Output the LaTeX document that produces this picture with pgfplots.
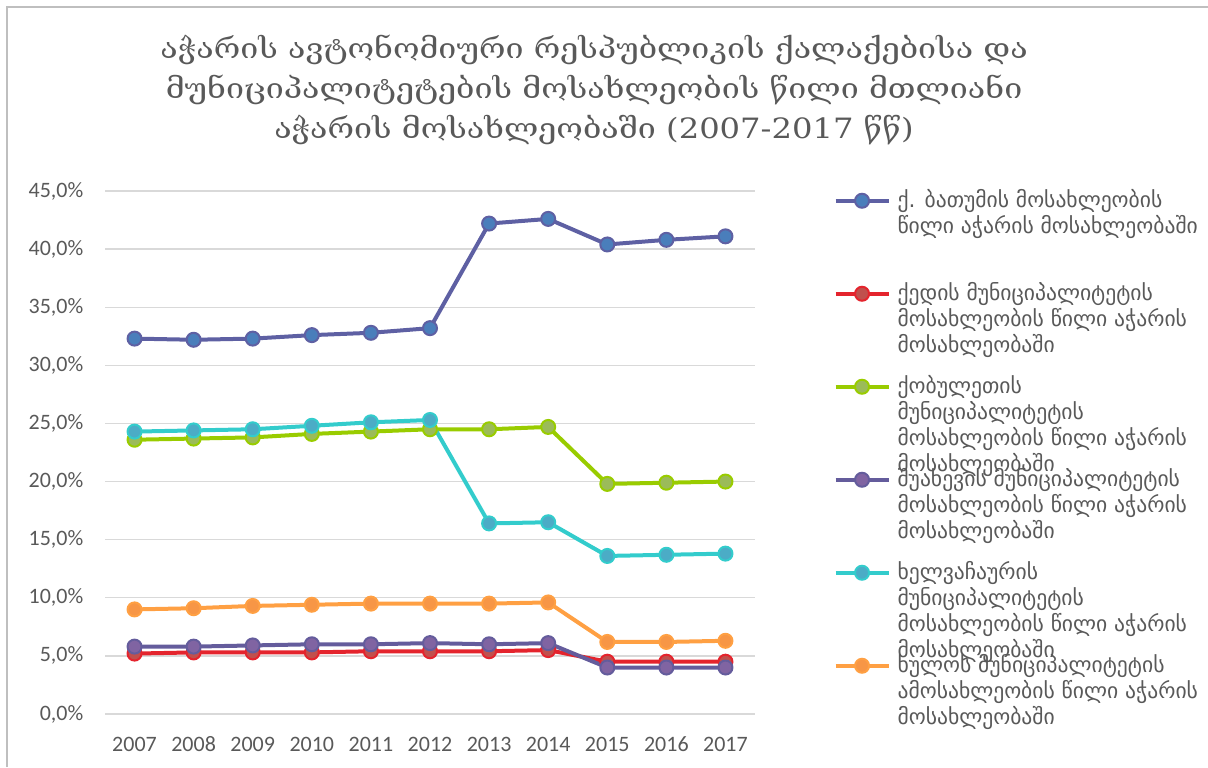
\documentclass[border=0pt]{standalone}
\usepackage{fontspec}
\setmainfont{DejaVu Sans}
\newfontfamily\titlefont[FakeStretch=1.15]{DejaVu Serif}
\newfontfamily\legfont{DejaVu Sans}
\newfontfamily\tickfont{Carlito}
\usepackage{pgfplots}
\pgfplotsset{compat=1.18}
\definecolor{textgray}{RGB}{89,89,89}
\definecolor{gridgray}{RGB}{217,217,217}
\definecolor{batline}{RGB}{94,96,163}
\definecolor{batmark}{RGB}{74,126,187}
\definecolor{kedline}{RGB}{228,36,45}
\definecolor{kedmark}{RGB}{192,80,77}
\definecolor{kobline}{RGB}{153,204,0}
\definecolor{kobmark}{RGB}{155,187,89}
\definecolor{shuline}{RGB}{100,92,156}
\definecolor{shumark}{RGB}{128,100,162}
\definecolor{khelline}{RGB}{51,204,204}
\definecolor{khelmark}{RGB}{75,172,198}
\definecolor{khuline}{RGB}{255,160,67}
\definecolor{khumark}{RGB}{247,150,70}
\newcommand\LE[1]{\vtop to 46.5pt{\baselineskip=13pt\lineskiplimit=-100pt #1\vss}}
\begin{document}
\begin{tikzpicture}
\useasboundingbox (0,0) rectangle (604pt,383.5pt);
\draw[color=black!25, line width=1pt] (3.25pt,0) -- (3.25pt,379.75pt) -- (604pt,379.75pt);
\node[align=center, font=\titlefont\fontsize{14}{20}\selectfont, text=textgray] at (297pt,338.5pt)
 {აჭარის ავტონომიური რესპუბლიკის ქალაქებისა და\\მუნიციპალიტეტების მოსახლეობის წილი მთლიანი\\აჭარის მოსახლეობაში (2007-2017 წწ)};
\begin{axis}[
 at={(52.5pt,26.5pt)}, anchor=south west, scale only axis,
 width=325pt, height=261.5pt,
 xmin=2006.5, xmax=2017.5, ymin=0, ymax=45,
 xtick={2007,2008,2009,2010,2011,2012,2013,2014,2015,2016,2017},
 xticklabels={2007,2008,2009,2010,2011,2012,2013,2014,2015,2016,2017},
 ytick={0,5,10,15,20,25,30,35,40,45},
 yticklabels={{0,0\%},{5,0\%},{10,0\%},{15,0\%},{20,0\%},{25,0\%},{30,0\%},{35,0\%},{40,0\%},{45,0\%}},
 axis line style={draw=none}, major tick style={draw=none},
 ymajorgrids, grid style={gridgray, line width=0.7pt},
 ticklabel style={font=\tickfont\fontsize{11}{13}\selectfont, text=textgray},
 xticklabel style={anchor=base, yshift=-18.5pt},
 yticklabel style={xshift=-7.3pt},
 clip=false,
 legend style={at={(1.111,1.011)}, anchor=north west, draw=none, fill=none,
   row sep=0pt, column sep=3.5pt, cells={anchor=base west},
   nodes={inner sep=0pt, text depth=, font=\legfont\fontsize{10.8}{13}\selectfont, text=textgray}},
 legend image code/.code={\draw[#1, mark repeat=2, mark phase=2] plot coordinates {(0pt,3.5pt) (13.25pt,3.5pt) (26.5pt,3.5pt)};},
 every axis plot/.append style={line width=2pt, mark=*, mark size=3.5pt},
]
\addplot[color=batline, mark options={fill=batmark, draw=batline, line width=1pt}] coordinates {
 (2007,32.3) (2008,32.2) (2009,32.3) (2010,32.6) (2011,32.8) (2012,33.2) (2013,42.2) (2014,42.6) (2015,40.4) (2016,40.8) (2017,41.1)};
\addlegendentry{\LE{\hbox{ქ. ბათუმის მოსახლეობის}\hbox{წილი აჭარის მოსახლეობაში}}}
\addplot[color=kedline, mark options={fill=kedmark, draw=kedline, line width=1pt}] coordinates {
 (2007,5.2) (2008,5.3) (2009,5.3) (2010,5.3) (2011,5.4) (2012,5.4) (2013,5.4) (2014,5.5) (2015,4.5) (2016,4.5) (2017,4.5)};
\addlegendentry{\LE{\hbox{ქედის მუნიციპალიტეტის}\hbox{მოსახლეობის წილი აჭარის}\hbox{მოსახლეობაში}}}
\addplot[color=kobline, mark options={fill=kobmark, draw=kobline, line width=1pt}] coordinates {
 (2007,23.6) (2008,23.7) (2009,23.8) (2010,24.1) (2011,24.3) (2012,24.5) (2013,24.5) (2014,24.7) (2015,19.8) (2016,19.9) (2017,20.0)};
\addlegendentry{\LE{\hbox{ქობულეთის}\hbox{მუნიციპალიტეტის}\hbox{მოსახლეობის წილი აჭარის}\hbox{მოსახლეობაში}}}
\addplot[color=shuline, mark options={fill=shumark, draw=shuline, line width=1pt}] coordinates {
 (2007,5.8) (2008,5.8) (2009,5.9) (2010,6.0) (2011,6.0) (2012,6.1) (2013,6.0) (2014,6.1) (2015,4.0) (2016,4.0) (2017,4.0)};
\addlegendentry{\LE{\hbox{შუახევის მუნიციპალიტეტის}\hbox{მოსახლეობის წილი აჭარის}\hbox{მოსახლეობაში}}}
\addplot[color=khelline, mark options={fill=khelmark, draw=khelline, line width=1pt}] coordinates {
 (2007,24.3) (2008,24.4) (2009,24.5) (2010,24.8) (2011,25.1) (2012,25.3) (2013,16.4) (2014,16.5) (2015,13.6) (2016,13.7) (2017,13.8)};
\addlegendentry{\LE{\hbox{ხელვაჩაურის}\hbox{მუნიციპალიტეტის}\hbox{მოსახლეობის წილი აჭარის}\hbox{მოსახლეობაში}}}
\addplot[color=khuline, mark options={fill=khumark, draw=khuline, line width=1pt}] coordinates {
 (2007,9.0) (2008,9.1) (2009,9.3) (2010,9.4) (2011,9.5) (2012,9.5) (2013,9.5) (2014,9.6) (2015,6.2) (2016,6.2) (2017,6.3)};
\addlegendentry{\LE{\hbox{ხულოს მუნიციპალიტეტის}\hbox{ამოსახლეობის წილი აჭარის}\hbox{მოსახლეობაში}}}
\end{axis}
\end{tikzpicture}
\end{document}
